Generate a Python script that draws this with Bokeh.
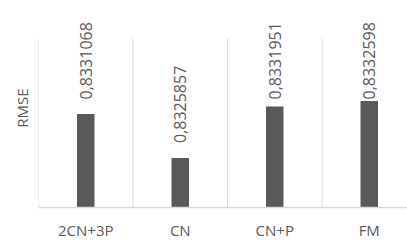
from bokeh.plotting import figure
from bokeh.models import FixedTicker, Range1d, ColumnDataSource
from bokeh.embed import file_html
from bokeh.resources import INLINE
from bokeh.core.properties import value

# ---- data ----
categories = ["2CN+3P", "CN", "CN+P", "FM"]
rmse = [0.8331068, 0.8325857, 0.8331951, 0.8332598]
y_min = 0.832
y_max = 0.834

# ---- layout constants (pixels) ----
left_border, bottom_border, top_border = 38, 34, 8
frame_w, frame_h = 369, 199
frame_top_extra = 30          # space above the grid for labels
cat_px = 94.5
label_gap = 15
label_len = 86
label_top_clamp = 5          # relative to frame top

grid_h = frame_h - frame_top_extra
ppu = grid_h / (y_max - y_min)
y_end = y_max + frame_top_extra / ppu
x_start = -0.5
x_end = x_start + frame_w / cat_px

xs = list(range(len(categories)))
labels = [f"{v:.7f}".replace(".", ",") for v in rmse]

def to_px(v):
    return frame_h - (v - y_min) * ppu

def to_data(px):
    return y_min + (frame_h - px) / ppu

anchors = []
for v in rmse:
    b = max(to_px(v) - label_gap, label_top_clamp + label_len)
    anchors.append(to_data(b))

src = ColumnDataSource(dict(x=xs, top=rmse, lab=labels, ly=anchors))

p = figure(frame_width=frame_w, frame_height=frame_h,
           output_backend="svg", toolbar_location=None,
           x_range=Range1d(x_start, x_end), y_range=Range1d(y_min, y_end),
           min_border_left=left_border, min_border_right=0,
           min_border_top=top_border, min_border_bottom=bottom_border)
p.outline_line_color = None
p.background_fill_color = "white"
p.border_fill_color = "white"
p.grid.visible = False

# category separators
seps = [i - 0.5 for i in range(len(categories) + 1)]
p.segment(x0=seps, x1=seps, y0=[y_min] * len(seps), y1=[y_max] * len(seps),
          line_color="#d9d9d9", line_width=1)

p.vbar(x="x", top="top", bottom=y_min, width=0.185, source=src,
       fill_color="#595959", line_color=None)

p.text(x="x", y="ly", text="lab", source=src, angle=1.5708,
       text_align="left", text_baseline="middle",
       text_font=value("Open Sans"), text_font_size="16px",
       text_color="#595959")

# x axis
p.xaxis.ticker = FixedTicker(ticks=xs)
p.xaxis.major_label_overrides = {i: c for i, c in enumerate(categories)}
p.xaxis.axis_line_color = "#d9d9d9"
p.xaxis.axis_line_width = 1.5
p.xaxis.major_tick_line_color = None
p.xaxis.major_tick_out = 0
p.xaxis.major_tick_in = 0
p.xaxis.minor_tick_line_color = None
p.xaxis.major_label_standoff = 12
p.xaxis.major_label_text_font = "Open Sans"
p.xaxis.major_label_text_font_size = "15px"
p.xaxis.major_label_text_color = "#595959"

# y axis: only the title
p.yaxis.ticker = FixedTicker(ticks=[])
p.yaxis.axis_label = "RMSE"
p.yaxis.axis_label_text_font = "Open Sans"
p.yaxis.axis_label_text_font_size = "15px"
p.yaxis.axis_label_text_font_style = "normal"
p.yaxis.axis_label_text_color = "#595959"
p.yaxis.axis_line_color = None
p.yaxis.major_tick_line_color = None
p.yaxis.major_tick_out = 0
p.yaxis.major_tick_in = 0
p.yaxis.minor_tick_line_color = None
p.yaxis.axis_label_standoff = 7

open("out.html", "w").write(file_html(p, INLINE))
